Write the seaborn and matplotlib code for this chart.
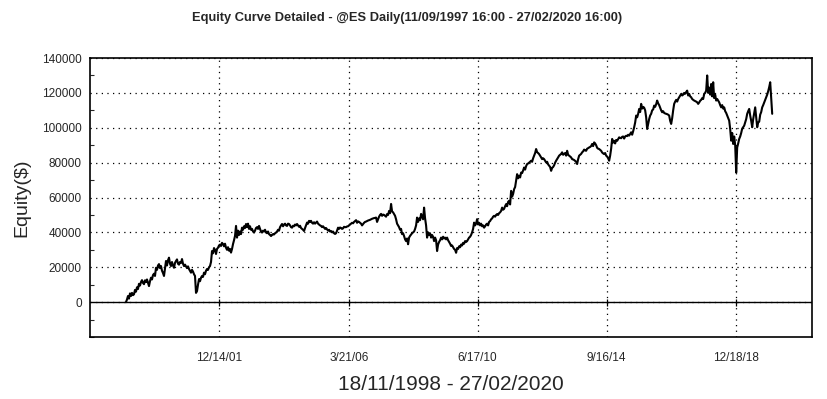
import numpy as np
import pandas as pd
import seaborn as sns
import matplotlib.pyplot as plt
from matplotlib.ticker import MultipleLocator

# equity in thousands of $, one reading roughly every 12 days, 18/11/1998 -> 27/02/2020
equity_k = [
    0, 1.5, 3.5, 2.0, 5.0, 3.5, 5.3, 4.0, 4.5, 7.0,
    6.0, 8.5, 7.5, 10.5, 9.5, 11.5, 12.6, 11.0, 10.3, 12.5,
    11.5, 13.0, 11.0, 9.2, 12.0, 14.0, 13.0, 15.5, 16.3, 15.0,
    19.7, 18.5, 21.0, 21.8, 19.5, 20.7, 18.0, 16.7, 15.0, 19.5,
    23.6, 21.0, 24.0, 25.5, 22.0, 20.7, 23.0, 21.0, 19.7, 22.5,
    23.6, 24.5, 22.0, 21.5, 23.0, 22.5, 24.7, 22.0, 20.7, 21.5,
    20.5, 19.5, 20.5, 19.0, 18.0, 16.9, 18.5, 17.5, 16.0, 15.0,
    5.3, 6.3, 10.0, 13.2, 12.0, 14.0, 15.0, 14.5, 16.9, 16.0,
    18.0, 19.0, 18.5, 20.0, 20.7, 23.0, 29.3, 28.0, 31.0, 30.0,
    27.6, 30.5, 31.2, 32.5, 33.0, 32.2, 34.0, 33.3, 32.0, 33.5,
    31.2, 30.0, 31.5, 29.5, 30.5, 28.4, 30.5, 33.3, 35.5, 38.0,
    43.7, 37.0, 41.0, 38.5, 40.5, 39.0, 42.7, 41.5, 43.5, 42.5,
    44.8, 43.0, 45.0, 42.0, 43.5, 41.5, 42.0, 40.5, 39.9, 41.0,
    42.5, 43.0, 42.0, 43.7, 42.0, 40.5, 39.9, 41.0, 40.5, 41.5,
    40.0, 39.5, 40.5, 39.0, 38.5, 37.9, 38.5, 39.0, 38.8, 39.5,
    39.9, 40.5, 41.5, 41.0, 43.0, 44.0, 44.8, 43.5, 44.5, 45.0,
    44.0, 43.7, 45.0, 44.8, 44.0, 43.0, 42.7, 43.8, 43.5, 44.5,
    44.0, 44.8, 44.0, 43.2, 43.8, 42.5, 42.0, 41.5, 40.8, 42.5,
    44.0, 45.6, 45.0, 46.6, 46.0, 46.6, 45.5, 45.0, 45.8, 45.0,
    45.6, 46.2, 45.0, 44.5, 44.0, 43.7, 43.0, 43.5, 42.7, 42.0,
    42.5, 41.8, 41.0, 41.5, 40.5, 40.8, 40.0, 40.5, 39.5, 39.1,
    39.5, 41.0, 42.7, 42.0, 42.8, 42.5, 42.0, 42.3, 43.2, 43.0,
    43.0, 43.4, 43.5, 44.0, 44.5, 45.0, 45.5, 45.2, 46.0, 46.5,
    47.0, 45.5, 46.3, 46.0, 45.5, 45.0, 44.0, 44.8, 45.5, 46.0,
    46.2, 46.5, 46.8, 47.0, 47.2, 47.5, 47.8, 48.0, 48.2, 48.3,
    48.5, 46.0, 47.5, 49.0, 50.0, 50.6, 49.5, 50.2, 50.0, 49.5,
    49.0, 50.5, 50.0, 52.3, 51.0, 56.3, 52.0, 51.5, 50.5, 49.5,
    47.5, 45.0, 44.0, 43.0, 41.5, 42.0, 39.0, 39.5, 37.9, 36.0,
    35.0, 36.5, 33.2, 37.0, 38.0, 38.8, 39.5, 40.0, 40.5, 42.0,
    44.0, 48.5, 46.0, 48.0, 47.0, 50.6, 49.0, 47.5, 54.2, 48.0,
    44.0, 37.0, 40.0, 38.5, 39.5, 37.0, 38.5, 37.5, 35.0, 37.0,
    35.5, 29.3, 33.0, 34.5, 35.5, 37.0, 36.0, 37.5, 36.5, 37.0,
    36.0, 37.0, 35.5, 34.5, 33.5, 32.2, 32.5, 31.5, 30.5, 30.0,
    28.3, 31.0, 30.5, 32.0, 31.5, 33.0, 32.5, 34.0, 33.5, 35.0,
    34.5, 35.0, 36.0, 37.0, 37.5, 38.5, 40.0, 42.0, 45.6, 44.0,
    45.0, 47.6, 44.5, 45.5, 44.0, 45.0, 43.5, 44.0, 42.7, 43.5,
    44.5, 45.0, 44.0, 46.0, 46.5, 47.5, 48.0, 49.0, 49.5, 49.0,
    50.0, 50.5, 50.0, 51.0, 51.5, 52.3, 54.2, 53.0, 53.5, 55.0,
    56.2, 55.0, 57.5, 58.1, 56.0, 63.8, 60.5, 62.0, 64.8, 66.0,
    69.6, 73.4, 71.0, 72.5, 71.5, 74.3, 74.0, 75.5, 77.2, 76.0,
    78.0, 79.2, 79.5, 80.0, 80.5, 81.1, 80.5, 82.5, 84.0, 85.5,
    87.8, 86.0, 85.5, 84.9, 84.0, 83.0, 82.0, 82.5, 82.0, 81.0,
    80.1, 80.5, 79.0, 78.2, 77.5, 75.3, 77.0, 77.5, 78.5, 80.0,
    81.1, 82.0, 83.0, 84.0, 84.5, 85.0, 85.9, 84.5, 85.0, 85.5,
    84.0, 86.8, 84.5, 84.0, 83.5, 83.0, 82.0, 81.8, 81.5, 81.0,
    80.5, 79.2, 82.0, 84.0, 84.5, 85.0, 85.9, 86.5, 87.5, 87.0,
    86.8, 88.0, 88.3, 88.7, 89.0, 89.5, 90.7, 89.5, 91.6, 91.0,
    90.0, 88.5, 88.0, 87.8, 87.3, 86.8, 85.8, 85.3, 84.9, 85.5,
    84.0, 83.5, 82.5, 81.1, 84.0, 88.0, 93.6, 91.5, 92.5, 91.0,
    93.0, 92.5, 93.5, 94.5, 94.2, 94.0, 94.8, 95.0, 93.8, 95.0,
    95.4, 95.2, 96.0, 95.5, 96.5, 97.4, 96.0, 98.0, 100.3, 103.0,
    107.0, 106.0, 108.0, 110.8, 109.0, 113.7, 111.0, 112.0, 111.5, 110.0,
    106.0, 99.3, 102.0, 105.0, 107.0, 108.0, 110.0, 110.5, 112.7, 112.0,
    113.5, 115.6, 114.0, 113.0, 111.5, 110.0, 108.9, 109.5, 108.5, 108.2,
    108.0, 107.8, 107.5, 107.0, 104.0, 102.2, 105.5, 110.0, 113.7, 115.0,
    116.0, 115.0, 116.5, 117.5, 118.5, 119.4, 118.5, 119.0, 120.0, 119.5,
    120.5, 121.3, 118.5, 119.4, 118.0, 117.5, 116.5, 116.0, 115.6, 115.3,
    115.0, 114.6, 113.7, 114.5, 115.5, 116.0, 117.0, 116.5, 119.4, 120.0,
    121.3, 130.0, 120.0, 123.0, 119.0, 125.1, 118.0, 126.1, 117.0, 119.0,
    115.6, 116.5, 115.5, 114.6, 113.0, 111.7, 113.0, 111.0, 111.7, 109.5,
    108.5, 107.0, 105.5, 104.1, 99.3, 92.6, 97.0, 90.7, 95.0, 90.0,
    74.3, 88.7, 91.0, 93.6, 95.0, 97.0, 99.5, 100.3, 101.2, 103.0,
    105.0, 108.0, 109.5, 110.8, 107.0, 104.0, 100.3, 105.0, 108.5, 111.7,
    106.0, 100.3, 103.0, 103.5, 107.5, 109.0, 111.7, 113.0, 114.5, 116.0,
    117.5, 119.0, 121.0, 123.3, 126.1, 117.0, 108.0,
]
start_date = "1998-11-18"
end_date = "2020-02-27"

tick_dates = ["2001-12-14", "2006-03-21", "2010-06-17", "2014-09-16", "2018-12-18"]
tick_labels = ["12/14/01", "3/21/06", "6/17/10", "9/16/14", "12/18/18"]
x_limits = ["1997-09-11", "2021-06-19"]

title = "Equity Curve Detailed - @ES Daily(11/09/1997 16:00 - 27/02/2020 16:00)"
xlabel = "18/11/1998 - 27/02/2020"

sns.set_style("white")
plt.rcParams['font.family'] = ['Liberation Sans Narrow', 'Liberation Sans', 'DejaVu Sans']

df = pd.DataFrame({
    "date": pd.date_range(start_date, end_date, periods=len(equity_k)),
    "equity": np.array(equity_k) * 1000,
})

fig = plt.figure(figsize=(8.27, 3.99), dpi=100)
ax = fig.add_axes([0.1088, 0.1554, 0.873, 0.6992])

sns.lineplot(data=df, x="date", y="equity", ax=ax, color="black", linewidth=1.5, estimator=None)

ax.axhline(0, color="black", linewidth=1.0)
# little tick marks where the x ticks cross the zero line
ax.vlines(pd.to_datetime(tick_dates), -2000, 2000, color="black", linewidth=0.9)
ax.set_xlim(pd.Timestamp(x_limits[0]), pd.Timestamp(x_limits[1]))
ax.set_ylim(-20000, 140000)

ax.set_yticks(range(0, 140001, 20000))
ax.set_yticklabels([str(v) for v in range(0, 140001, 20000)])
ax.yaxis.set_minor_locator(MultipleLocator(10000))
ax.set_xticks(pd.to_datetime(tick_dates))
ax.set_xticklabels(tick_labels)

ax.tick_params(axis="y", which="major", direction="out", length=4, width=0.8, labelsize=8.5, pad=2)
ax.tick_params(axis="y", which="minor", direction="in", length=3, width=0.8, left=True)
ax.tick_params(axis="x", which="major", direction="in", length=3, width=0.8, labelsize=8.5, pad=11)

ax.grid(True, which="major", color="black", linestyle=(0, (1, 3.5)), linewidth=0.9)
for s in ax.spines.values():
    s.set_color("black")
    s.set_linewidth(1.2)

ax.set_ylabel("Equity($)", fontsize=14, labelpad=8)
ax.set_xlabel(xlabel, fontsize=15, labelpad=8)
fig.text(0.492, 0.955, title, ha="center", va="center", fontsize=9.3, fontweight="bold")

fig.savefig("out.png", dpi=100)
